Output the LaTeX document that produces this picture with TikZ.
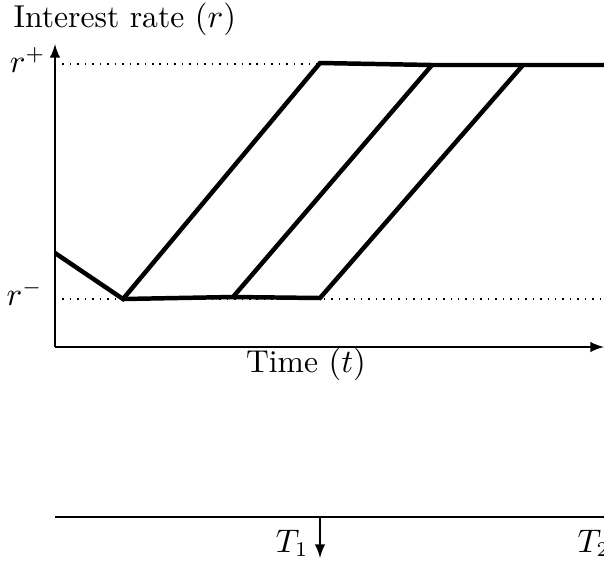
\documentclass[tikz,border=0pt]{standalone}
\usepackage{amsmath}
\usetikzlibrary{arrows.meta, positioning}

\begin{document}
\begin{tikzpicture}[x=0.335pt, y=-0.335pt, >=latex,
    every node/.style={font=\fontsize{10.6pt}{12.5pt}\selectfont},
    axis/.style={line width=0.6pt},
    level/.style={dotted, line width=0.5pt},
    path/.style={line width=1.5pt}]
    \useasboundingbox (0,0) rectangle (604,561);

    % Axes
    \coordinate (O) at (55,347);
    \coordinate (ytop) at (55,44);
    \coordinate (xend) at (604,347);
    \draw[->, axis] (O) -- (ytop);
    \draw[->, axis] (O) -- (xend);
    \node[anchor=base west, inner sep=0] (ylabel) at (13,27) {Interest rate $(r)$};
    \node[anchor=base, inner sep=0] (xlabel) at (306,372) {Time $(t)$};

    % Rate levels
    \coordinate (hiL) at (55,64);
    \coordinate (hiR) at (604,64);
    \coordinate (loL) at (55,299);
    \coordinate (loR) at (604,299);
    \draw[level] (hiL) -- (hiR);
    \draw[level] (loL) -- (loR);
    \node[anchor=base east, inner sep=0] (rplus) at (46,72) {$r^+$};
    \node[anchor=base east, inner sep=0] (rminus) at (43,305) {$r^-$};

    % Rate paths
    \coordinate (start) at (55,253);
    \coordinate (lowA) at (123,299);
    \coordinate (lowB) at (233,297);
    \coordinate (lowC) at (320,298);
    \coordinate (highA) at (320,63);
    \coordinate (highB) at (432,65);
    \coordinate (highC) at (523,65);
    \coordinate (far) at (606,65);
    \draw[path] (start) -- (lowA) -- (highA) -- (highB) -- (highC) -- (far);
    \draw[path] (lowA) -- (lowB) -- (highB);
    \draw[path] (lowB) -- (lowC) -- (highC);

    % Time line
    \coordinate (tlL) at (55,517);
    \coordinate (tlR) at (606,517);
    \coordinate (tick) at (320,517);
    \coordinate (tickend) at (320,558);
    \draw[axis] (tlL) -- (tlR);
    \draw[->, axis] (tick) -- (tickend);
    \node[anchor=base east, inner sep=0] (Tone) at (309,552) {$T_1$};
    \node[anchor=base west, inner sep=0] (Ttwo) at (577,552) {$T_2$};
\end{tikzpicture}
\end{document}
